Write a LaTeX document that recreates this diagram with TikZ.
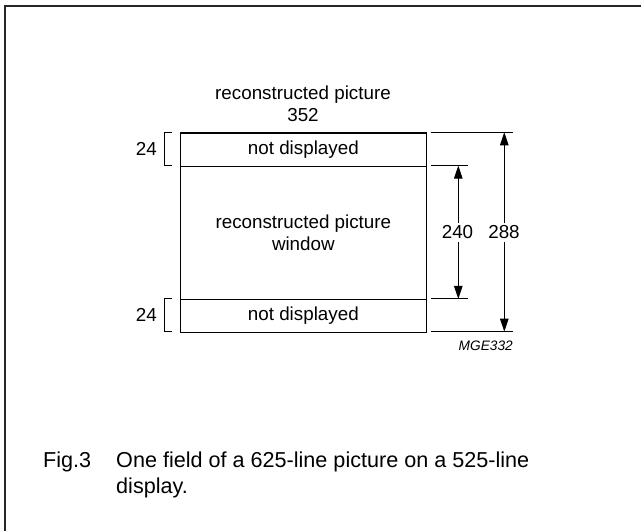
\documentclass[tikz,border=0pt]{standalone}
\usepackage{fontspec}
\setmainfont{Liberation Sans}
\usetikzlibrary{arrows.meta}
\begin{document}
\begin{tikzpicture}[x=1pt,y=-1pt,
  lbl/.style={inner sep=0pt, font=\fontsize{18.8}{22}\selectfont, align=center},
  captext/.style={inner sep=0pt, anchor=west, font=\fontsize{21.6}{26}\selectfont},
  boxline/.style={line width=1.2pt},
  thinline/.style={line width=0.9pt},
  dimarrow/.style={line width=0.9pt, -{Triangle[length=13pt,width=8.5pt]}}]
\useasboundingbox (0,0) rectangle (641,531);
% frame (top and left edges)
\draw[line width=2.2pt, black!85] (641,6) -- (5,6) -- (5,531);
% main box
\node[boxline, draw, minimum width=245.5pt, minimum height=33.3pt, inner sep=0pt, anchor=north west] (top) at (180,132.3) {};
\node[boxline, draw, minimum width=245.5pt, minimum height=133.3pt, inner sep=0pt, anchor=north west] (win) at (180,165.6) {};
\node[boxline, draw, minimum width=245.5pt, minimum height=32.7pt, inner sep=0pt, anchor=north west] (bot) at (180,298.9) {};
\node[lbl] (tt) at (top.center) {not displayed};
\node[lbl] (bt) at (bot.center) {not displayed};
\node[lbl] (wt) at (win.center) {reconstructed picture\\window};
\node[lbl] (title) at (303,104) {reconstructed picture\\352};
% left brackets
\draw[thinline] (171.7,132.3) -- (164.3,132.3) -- (164.3,165.6) -- (171.7,165.6);
\draw[thinline] (171.7,298.9) -- (164.3,298.9) -- (164.3,331.6) -- (171.7,331.6);
\node[lbl, anchor=east] (t24a) at (157,149) {24};
\node[lbl, anchor=east] (t24b) at (157,315.3) {24};
% right extension lines
\coordinate (e1) at (513,132.3);
\coordinate (e2) at (467.7,165.6);
\coordinate (e3) at (467.7,298.9);
\coordinate (e4) at (513,331.6);
\draw[thinline] (430.7,132.3) -- (e1);
\draw[thinline] (430.7,165.6) -- (e2);
\draw[thinline] (430.7,298.9) -- (e3);
\draw[thinline] (430.7,331.6) -- (e4);
% dimension arrows
\node[lbl, fill=white, inner sep=3pt] (d240) at (457.5,232.5) {240};
\node[lbl, fill=white, inner sep=3pt] (d288) at (504,232.5) {288};
\coordinate (a1) at (458.3,165.6);
\coordinate (a2) at (458.3,298.9);
\coordinate (b1) at (504.3,132.3);
\coordinate (b2) at (504.3,331.6);
\draw[dimarrow] (d240.north -| a1) -- (a1);
\draw[dimarrow] (d240.south -| a2) -- (a2);
\draw[dimarrow] (d288.north -| b1) -- (b1);
\draw[dimarrow] (d288.south -| b2) -- (b2);
% code
\node[inner sep=0pt, anchor=east, font=\fontsize{13.7}{16}\selectfont\itshape] (code) at (513,346) {MGE332};
% caption
\node[captext] (fig) at (43,462) {Fig.3};
\node[captext] (c1) at (116,462) {One field of a 625-line picture on a 525-line};
\node[captext] (c2) at (116,488) {display.};
\end{tikzpicture}
\end{document}
